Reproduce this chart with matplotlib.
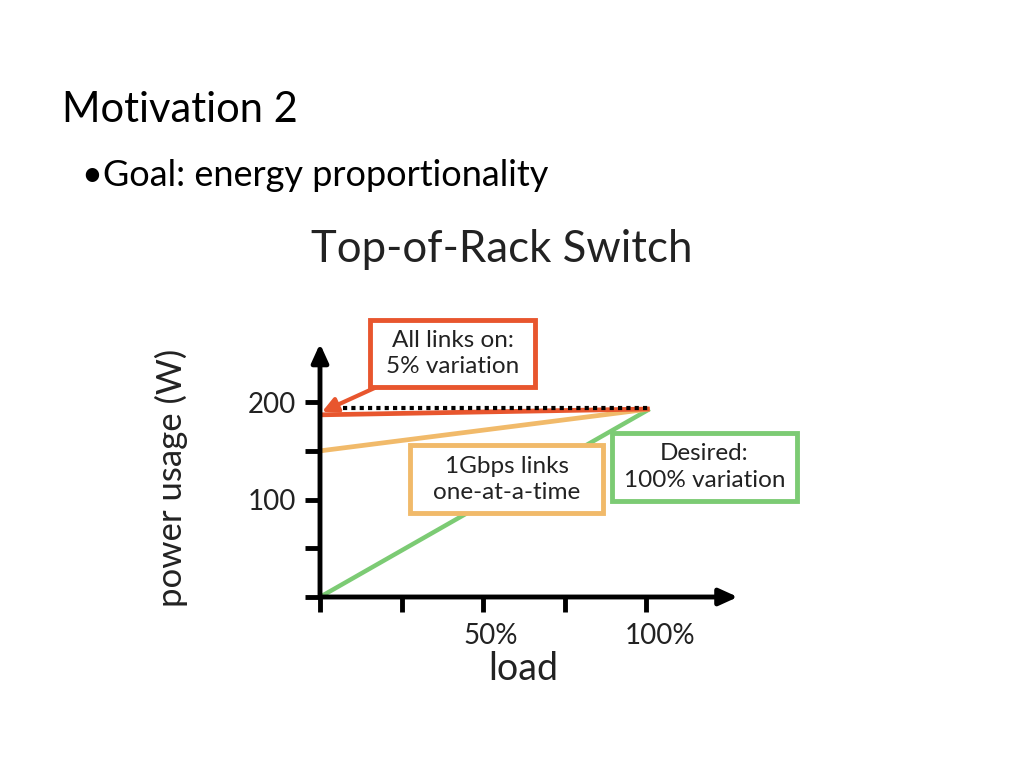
import matplotlib.pyplot as plt
from matplotlib.patches import Rectangle
from matplotlib.transforms import ScaledTranslation

plt.rcParams['font.family'] = ['Lato', 'DejaVu Sans']

# data: load (%) -> power usage (W)
load = [0, 101]
all_links_on = [187, 193]
one_at_a_time = [150, 193]
desired = [0, 193]
dotted_load = [7, 101]
dotted_power = [194, 194]

x_ticks = [0, 25, 50, 75, 100]
x_tick_labels = ['', '', '50%', '', '100%']
y_ticks = [0, 50, 100, 150, 200]
y_tick_labels = ['', '', '100', '', '200']

RED = '#E8562E'
ORANGE = '#F1BA6A'
GREEN = '#7CCB74'

fig = plt.figure(figsize=(10.24, 7.68), dpi=100)
fig.text(62 / 1024, 1 - 110 / 768, 'Motivation 2', fontsize=30, va='center', ha='left')
fig.text(82 / 1024, 1 - 176 / 768, '\u2022Goal: energy proportionality', fontsize=26,
         va='center', ha='left')
fig.text(502 / 1024, 1 - 250 / 768, 'Top-of-Rack Switch', fontsize=31.5, va='center',
         ha='center', color='#222222')

ax = fig.add_axes([320 / 1024, 1 - 597 / 768, 489.6 / 1024, 282.5 / 768])
ax.set_xlim(0, 150)
ax.set_ylim(0, 290)
for sp in ax.spines.values():
    sp.set_visible(False)

# axes with arrow heads
ax.annotate('', xy=(128, 0), xytext=(0, 0),
            arrowprops=dict(arrowstyle='-|>,head_length=1.1,head_width=0.5', lw=3.5,
                            color='black', shrinkA=0, shrinkB=0), annotation_clip=False)
ax.annotate('', xy=(0, 260), xytext=(0, 0),
            arrowprops=dict(arrowstyle='-|>,head_length=1.1,head_width=0.5', lw=3.5,
                            color='black', shrinkA=0, shrinkB=0), annotation_clip=False)

ax.set_xticks(x_ticks, x_tick_labels)
ax.set_yticks(y_ticks, y_tick_labels)
ax.tick_params(axis='both', length=11, width=3.5, color='black', labelsize=20,
               labelcolor='#222222', direction='out')
ax.tick_params(axis='x', pad=8)
ax.tick_params(axis='y', pad=6)
for lbl in ax.get_xticklabels():
    shift = 0.14 if lbl.get_text() == '100%' else 0.08
    lbl.set_transform(lbl.get_transform() + ScaledTranslation(shift, 0, fig.dpi_scale_trans))

ax.set_xlabel('load', fontsize=27, color='#222222')
ax.set_ylabel('power usage (W)', fontsize=25, color='#222222')
ax.yaxis.set_label_coords(-0.27, 0.42)
ax.xaxis.set_label_coords(0.415, -0.19)

ax.plot(load, desired, color=GREEN, lw=3.2, solid_capstyle='butt', clip_on=False)
ax.plot(load, one_at_a_time, color=ORANGE, lw=3.4, solid_capstyle='butt', clip_on=False)
ax.plot(load, all_links_on, color=RED, lw=3.4, solid_capstyle='butt', clip_on=False)
ax.plot(dotted_load, dotted_power, color='black', lw=3, linestyle=(0, (1, 1)),
        clip_on=False)

# red arrow from box to the line
ax.annotate('', xy=(0.6, 190), xytext=(17, 215),
            arrowprops=dict(arrowstyle='-|>,head_length=0.9,head_width=0.45', lw=3,
                            color=RED, shrinkA=0, shrinkB=0))

boxes = [
    ((15.3, 216), 50.6, 68, RED, 'All links on:\n5% variation'),
    ((27.7, 86), 59, 70, ORANGE, '1Gbps links\none-at-a-time'),
    ((89.5, 99), 56.5, 69, GREEN, 'Desired:\n100% variation'),
]
for (x0, y0), w, h, col, txt in boxes:
    ax.add_patch(Rectangle((x0, y0), w, h, facecolor='white', edgecolor=col, lw=3.5,
                           clip_on=False, zorder=5))
    ax.text(x0 + w / 2, y0 + h / 2, txt, ha='center', va='center', fontsize=17.5,
            linespacing=1.3, color='#222222', zorder=6, clip_on=False)

fig.savefig('out.png', dpi=100)
